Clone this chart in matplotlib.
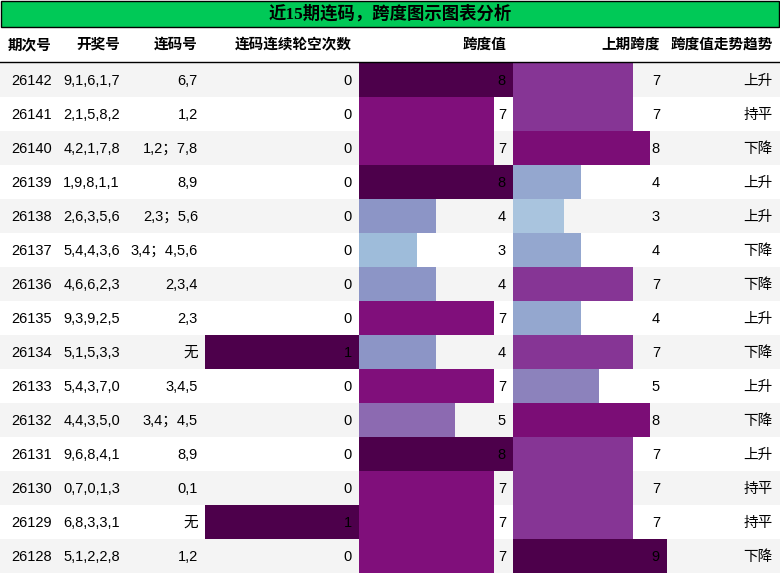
import numpy as np
import matplotlib
matplotlib.use("Agg")
import matplotlib.pyplot as plt
from matplotlib.colors import Normalize
from matplotlib.patches import Rectangle

# 数据
periods = [26142, 26141, 26140, 26139, 26138, 26137, 26136, 26135,
           26134, 26133, 26132, 26131, 26130, 26129, 26128]
draws = ["9,1,6,1,7", "2,1,5,8,2", "4,2,1,7,8", "1,9,8,1,1", "2,6,3,5,6",
         "5,4,4,3,6", "4,6,6,2,3", "9,3,9,2,5", "5,1,5,3,3", "5,4,3,7,0",
         "4,4,3,5,0", "9,6,8,4,1", "0,7,0,1,3", "6,8,3,3,1", "5,1,2,2,8"]
consec = ["6,7", "1,2", "1,2；7,8", "8,9", "2,3；5,6", "3,4；4,5,6", "2,3,4",
          "2,3", "无", "3,4,5", "3,4；4,5", "8,9", "0,1", "无", "1,2"]
miss = [0, 0, 0, 0, 0, 0, 0, 0, 1, 0, 0, 0, 0, 1, 0]
span = [8, 7, 7, 8, 4, 3, 4, 7, 4, 7, 5, 8, 7, 7, 7]
prev_span = [7, 7, 8, 4, 3, 4, 7, 4, 7, 5, 8, 7, 7, 7, 9]
trend = ["上升", "持平", "下降", "上升", "上升", "下降", "下降", "上升",
         "下降", "上升", "下降", "上升", "持平", "持平", "下降"]

headers = ["期次号", "开奖号", "连码号", "连码连续轮空次数", "跨度值", "上期跨度", "跨度值走势趋势"]
title = "近15期连码，跨度图示图表分析"

# 布局（像素）
W, H = 780, 574
col_edges = [0, 59, 127, 205, 359, 513, 667, 780]
title_h = 26
header_bottom = 62
row_h = 34
first_row = 63

font_body = ["Liberation Sans", "Noto Sans CJK SC"]
font_title = ["Liberation Serif", "Noto Sans CJK SC"]

fig = plt.figure(figsize=(W / 100, H / 100), dpi=100)
ax = fig.add_axes([0, 0, 1, 1])
ax.set_xlim(0, W)
ax.set_ylim(H, 0)
ax.axis("off")

n = len(periods)
centers = first_row + row_h * np.arange(n) + row_h / 2

# 行背景
for i in range(n):
    c = "#f4f4f4" if i % 2 == 0 else "white"
    ax.add_patch(Rectangle((0, first_row + row_h * i), W, row_h, color=c, lw=0, zorder=0))

# 条形
cmap = plt.get_cmap("BuPu")
bar_cols = [(3, miss), (4, span), (5, prev_span)]
for ci, vals in bar_cols:
    vals = np.array(vals, dtype=float)
    vmax = vals.max()
    norm = Normalize(0, vmax)
    x0 = col_edges[ci]
    cw = col_edges[ci + 1] - x0
    ax.barh(centers, vals / vmax * cw, height=row_h, left=x0,
            color=cmap(norm(vals)), linewidth=0, zorder=1)

# 标题
ax.add_patch(Rectangle((0.5, 0.5), W - 1.5, title_h, facecolor="#00c957",
                       edgecolor="black", lw=1.0, zorder=2))
ax.text(W / 2, title_h / 2 + 1, title, ha="center", va="center", fontsize=12.5,
        fontweight="bold", family=font_title, color="#000000", zorder=3)

# 表头
for j, h in enumerate(headers):
    ax.text(col_edges[j + 1] - 7, 45, h, ha="right", va="center", fontsize=10.5,
            fontweight="bold", family=font_body, color="#000000", zorder=3)
ax.plot([0, W], [header_bottom, header_bottom], color="black", lw=1.0, zorder=3)

# 单元格文字
columns = [periods, draws, consec, miss, span, prev_span, trend]
for j, col in enumerate(columns):
    for i, v in enumerate(col):
        ax.text(col_edges[j + 1] - 7, centers[i] + 1, str(v), ha="right", va="center",
                fontsize=10.5, family=font_body, color="#000000", zorder=3)

fig.savefig("out.png", dpi=100)
